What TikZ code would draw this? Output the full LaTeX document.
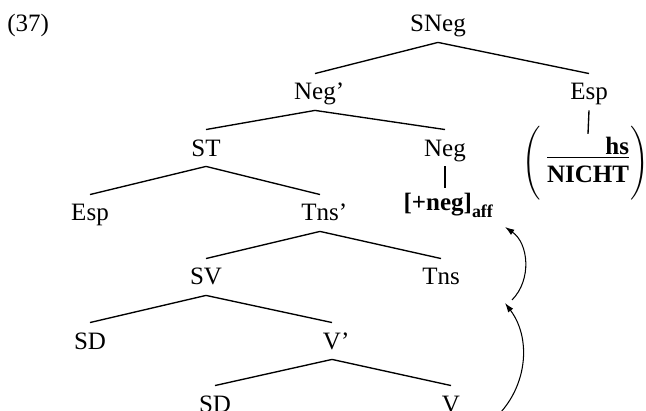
\documentclass[tikz,border=0pt]{standalone}
\usepackage{amsmath}
\usepackage{graphicx}
\usepackage{fontspec}
\setmainfont{Liberation Serif}
\usetikzlibrary{arrows.meta}

\begin{document}
\begin{tikzpicture}[x=0.48pt,y=-0.48pt]
\tikzset{every node/.style={font=\fontsize{12}{14}\selectfont},
  cat/.style={inner sep=0pt,text height=12.5pt,text depth=4.8pt,anchor=base},
  rama/.style={line width=0.65pt},
  paren/.style={inner sep=0pt},
  mov/.style={->,>={Latex[length=4.5pt,width=3pt]},line width=0.5pt}}
\useasboundingbox (0,0) rectangle (646,411);

\node[anchor=base west,inner sep=0pt] (0) at (7,32) {(37)};
% Nodos principales
\node[cat] (1) at (438,32) {SNeg};
\node[cat] (2) at (315,100) {Neg\rlap{'}};
\node[cat] (3) at (589,100) {Esp};
\node[cat] (4) at (206,156) {ST};
\node[cat] (5) at (445,156) {Neg};
\node[cat] (6) at (90,221) {Esp};
\node[cat] (7) at (320,221) {Tns\rlap{'}};
\node[cat] (8) at (206,285) {SV};
\node[cat] (9) at (441,285) {Tns};
\node[cat] (10) at (90,349) {SD};
\node[cat] (11) at (332,349) {V\rlap{'}};
\node[cat] (12) at (215,412) {SD};
\node[cat] (13) at (451,412) {V};
% rasgo de Neg y contenido de Esp
\node[anchor=base west,inner sep=2.5pt] (14) at (398,211)
  {\textbf{[+neg]}\raisebox{-2.9pt}{\fontsize{8.6}{10}\selectfont\bfseries aff}};
\node[inner sep=0pt] (15) at (588,163)
  {\begin{tabular}{@{}r@{}}\textbf{hs}\\[-3pt]\hline
   \rule{0pt}{12pt}\textbf{NICHT}\end{tabular}};
\node[paren,anchor=east] (16) at ([xshift=-2.5pt]15.west) {\scalebox{1}[1.23]{$\biggl($}};
\node[paren,anchor=west] (17) at ([xshift=0.5pt]15.east) {\scalebox{1}[1.23]{$\biggr)$}};
% extremos de las flechas
\coordinate (ini_V) at (488,424);
\coordinate (fin_Tns) at (505,303);
\coordinate (ini_Tns) at (512,300);
\coordinate (fin_Neg) at (505,227);

\path[rama]
(1.south) edge (2.north)
(1.south) edge (3.north)
(2.south) edge (4.north)
(2.south) edge (5.north)
(4.south) edge (6.north)
(4.south) edge (7.north)
(7.south) edge (8.north)
(7.south) edge (9.north)
(8.south) edge (10.north)
(8.south) edge (11.north)
(11.south) edge (12.north)
(11.south) edge (13.north)
(5.south) edge (5.south |- 14.north)
(3.south) edge (15.north);
% --- movimiento de V ---
\draw[mov] (ini_V) to[bend right=45] (fin_Tns);
\draw[mov] (ini_Tns) to[bend right=50] (fin_Neg);

\end{tikzpicture}
\end{document}
